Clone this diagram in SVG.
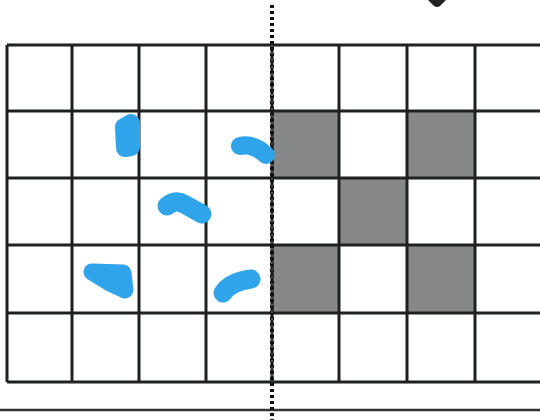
<svg xmlns="http://www.w3.org/2000/svg" width="540" height="420" viewBox="0 0 540 420">
<style>
.g{stroke:#1e2220;stroke-width:3;fill:none}
.f{fill:#858886}
.b{stroke:#2fa4ea;stroke-linecap:round;stroke-linejoin:round;fill:#2fa4ea}
.d{stroke:#111;stroke-width:4;stroke-dasharray:3 3;fill:none}
</style>
<rect width="540" height="420" fill="#fff"/>
<g id="shaded">
<rect class="f" x="272" y="111" width="67" height="67"/>
<rect class="f" x="407" y="111" width="68" height="67"/>
<rect class="f" x="339" y="178" width="68" height="67"/>
<rect class="f" x="272" y="245" width="67" height="68"/>
<rect class="f" x="407" y="245" width="68" height="68"/>
</g>
<g id="grid">
<path class="g" d="M7 45H542M7 111H542M7 178H542M7 245H542M7 313H542M7 382H542"/>
<path class="g" d="M7 45V382M72 45V382M139 45V382M206 45V382M339 45V382M407 45V382M475 45V382"/>
<path d="M0 410H540" stroke="#333" stroke-width="2.5"/>
</g>
<g id="axis">
<path class="d" d="M272 5V420"/>
<path d="M272 45V382" stroke="#111" stroke-width="3"/>
<path d="M272 45V382" stroke="#fff" stroke-width="1" stroke-dasharray="2 5" opacity="0.5"/>
</g>
<path id="tip" d="M428 0H446L440 6Q437 8 434 6Z" fill="#222"/>
<g id="marks">
<path class="b" stroke-width="18" d="M131 123L124 127L125 148L131 147Z"/>
<path class="b" stroke-width="18" d="M240 146Q254 143 266 155"/>
<path class="b" stroke-width="19" d="M167 206Q175 199 184 204L202 214"/>
<path class="b" stroke-width="17" d="M92 272L123 273L125 290L110 283Z"/>
<path class="b" stroke-width="19" d="M223 293Q230 282 251 279"/>
</g>
</svg>
